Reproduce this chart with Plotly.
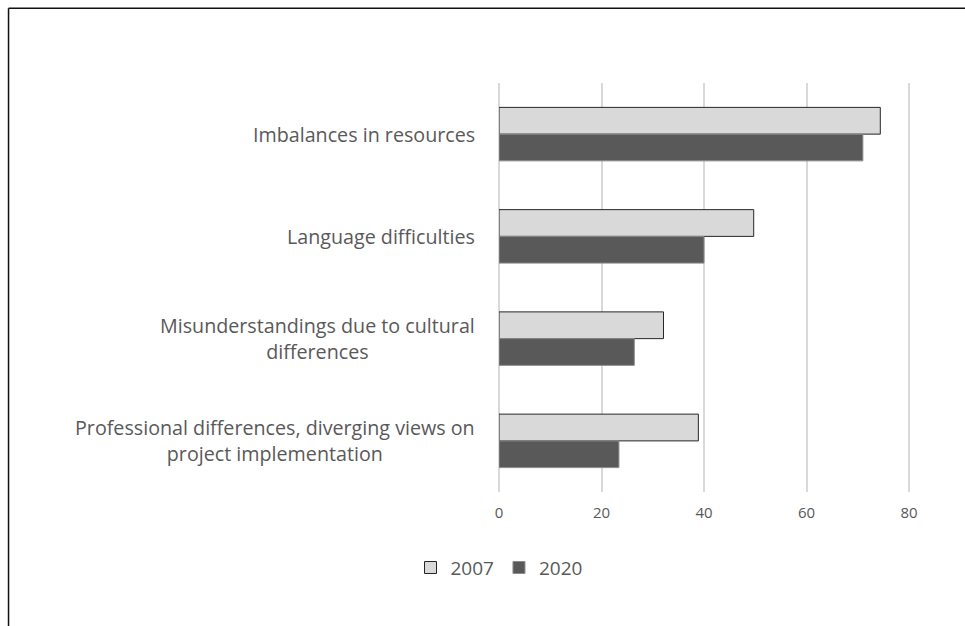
import plotly.graph_objects as go

# Survey categories (top to bottom) and shares per survey year
categories = [
    "Imbalances in resources",
    "Language difficulties",
    "Misunderstandings due to cultural<br>differences",
    "Professional differences, diverging views on<br>project implementation",
]
values_2007 = [74.4, 49.7, 32.1, 38.9]
values_2020 = [71.0, 40.0, 26.4, 23.4]
x_ticks = [0, 20, 40, 60, 80]

TEXT = "#595959"
FONT = "Open Sans"
GRID = "#d9d9d9"

fig = go.Figure()
fig.add_trace(go.Bar(
    name="2007", y=categories, x=values_2007, orientation="h",
    marker=dict(color="#d9d9d9", line=dict(color="#262626", width=1)),
))
fig.add_trace(go.Bar(
    name="2020", y=categories, x=values_2020, orientation="h",
    marker=dict(color="#595959", line=dict(color="#8c8c8c", width=1)),
))

# Category labels, wrapped lines centred on each other
for c in categories:
    fig.add_annotation(
        x=-0.0488, xref="paper", y=c, yref="y",
        text=c, showarrow=False, xanchor="right", yanchor="middle",
        align="center", font=dict(family=FONT, size=19.7, color=TEXT),
    )

# Frame lines along the top and left edges
fig.add_shape(type="line", xref="paper", yref="paper",
              x0=-1.0875, x1=1.2, y0=1.183, y1=1.183,
              line=dict(color="#111111", width=1.5))
fig.add_shape(type="line", xref="paper", yref="paper",
              x0=-1.0875, x1=-1.0875, y0=1.183, y1=-0.4,
              line=dict(color="#111111", width=1.5))

fig.update_layout(
    width=965, height=626,
    margin=dict(l=499, r=15, t=83, b=134),
    paper_bgcolor="white", plot_bgcolor="white",
    barmode="group", bargap=0.477, bargroupgap=0,
    font=dict(family=FONT, color=TEXT),
    xaxis=dict(
        range=[0, 88], tickvals=x_ticks, ticks="",
        showgrid=True, gridcolor=GRID, gridwidth=1.5,
        zeroline=True, zerolinecolor=GRID, zerolinewidth=1.5,
        showline=False, ticklabelstandoff=10,
        tickfont=dict(family=FONT, size=15, color=TEXT),
    ),
    yaxis=dict(
        autorange="reversed", showticklabels=False, ticks="",
        showgrid=False, zeroline=False, showline=False,
    ),
    legend=dict(
        orientation="h", x=0.0, xanchor="center", y=-0.185, yanchor="middle",
        font=dict(family=FONT, size=19, color=TEXT),
        itemwidth=30, traceorder="normal",
    ),
    showlegend=True,
)

fig.write_html("out.html")
